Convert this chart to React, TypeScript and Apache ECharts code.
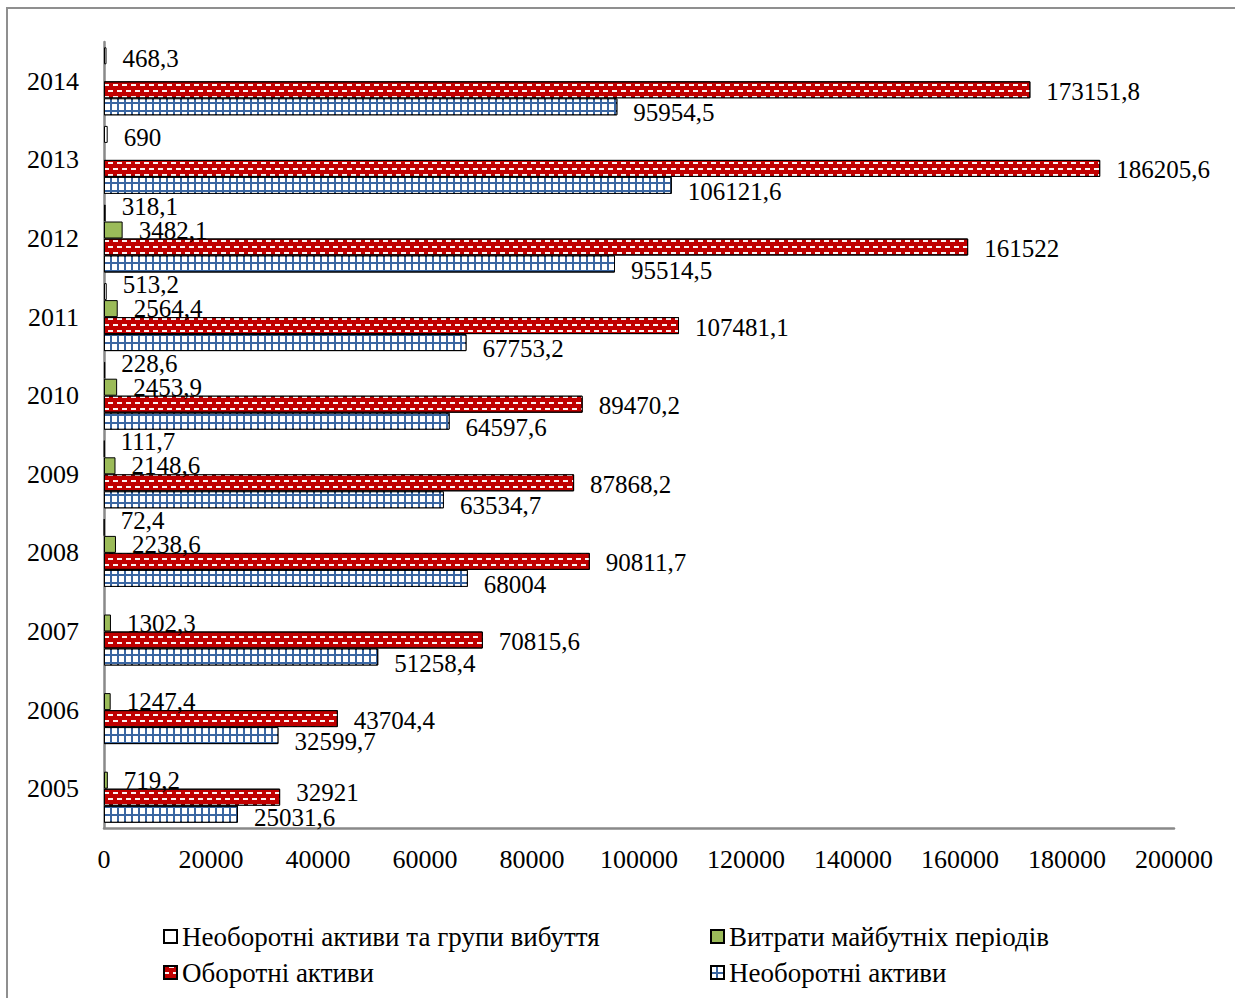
import React, { useEffect, useRef } from 'react';
import * as echarts from 'echarts';

const years = ['2005', '2006', '2007', '2008', '2009', '2010', '2011', '2012', '2013', '2014'];
const xTicks = { min: 0, max: 200000, interval: 20000 };

const seriesNames = [
  'Необоротні активи та групи вибуття',
  'Витрати майбутніх періодів',
  'Оборотні активи',
  'Необоротні активи',
];

const disposalGroups = [null, null, null, 72.4, 111.7, 228.6, 513.2, 318.1, 690, 468.3];
const deferredExpenses = [719.2, 1247.4, 1302.3, 2238.6, 2148.6, 2453.9, 2564.4, 3482.1, null, null];
const currentAssets = [32921, 43704.4, 70815.6, 90811.7, 87868.2, 89470.2, 107481.1, 161522, 186205.6, 173151.8];
const nonCurrentAssets = [25031.6, 32599.7, 51258.4, 68004, 63534.7, 64597.6, 67753.2, 95514.5, 106121.6, 95954.5];

const FONT = "'Liberation Serif', 'Times New Roman', serif";

const fmt = (p: any) => String(p.value).replace('.', ',');

export default function App() {
  const ref = useRef<HTMLDivElement>(null);

  useEffect(() => {
    if (!ref.current) return;
    const chart = echarts.init(ref.current, null, { renderer: 'svg' });

    const labelBase = {
      show: true,
      position: 'right',
      distance: 16,
      fontFamily: FONT,
      fontSize: 25,
      color: '#000',
      formatter: fmt,
    };

    const whiteData = disposalGroups.map((v, i) => ({
      value: v,
      label: { offset: [0, deferredExpenses[i] != null ? -7 : 3] },
    }));
    const redData = currentAssets.map((v, i) => ({
      value: v,
      label: { offset: [0, i === 0 ? -5 : 1.5] },
    }));
    const blueData = nonCurrentAssets.map((v, i) => ({
      value: v,
      label: { offset: [0, i === 0 ? 3 : 6] },
    }));

    const legendPos = [
      { left: 163, top: 923 },
      { left: 710, top: 923 },
      { left: 163, top: 959 },
      { left: 710, top: 959 },
    ];

    const option: any = {
      animation: false,
      backgroundColor: '#fff',
      graphic: [
        {
          type: 'rect',
          z: -10,
          shape: { x: 7, y: 8, width: 1400, height: 1200 },
          style: { fill: 'none', stroke: '#8f8f8f', lineWidth: 2 },
        },
      ],
      legend: seriesNames.map((n, i) => ({
        data: [n],
        left: legendPos[i].left,
        top: legendPos[i].top,
        padding: 0,
        itemWidth: 13,
        itemHeight: 13,
        icon: 'rect',
        selectedMode: false,
        textStyle: { fontFamily: FONT, fontSize: 27, color: '#000' },
      })),
      grid: { left: 104, right: 61, top: 42, height: 786, containLabel: false },
      xAxis: {
        type: 'value',
        min: xTicks.min,
        max: xTicks.max,
        interval: xTicks.interval,
        splitLine: { show: false },
        axisTick: { show: false },
        axisLine: { show: true, lineStyle: { color: '#898989', width: 2.5 } },
        axisLabel: {
          fontFamily: FONT,
          fontSize: 26,
          color: '#000',
          margin: 18,
          formatter: (v: number) => String(v),
        },
      },
      yAxis: {
        type: 'category',
        data: years,
        axisTick: { show: false },
        axisLine: { show: true, lineStyle: { color: '#898989', width: 2.5 } },
        axisLabel: { fontFamily: FONT, fontSize: 26, color: '#000', margin: 25 },
      },
      series: [
        {
          name: seriesNames[0],
          type: 'bar',
          barWidth: 17,
          barGap: '0%',
          data: whiteData,
          itemStyle: { color: '#ffffff', borderColor: '#000', borderWidth: 1 },
          label: { ...labelBase },
        },
        {
          name: seriesNames[1],
          type: 'bar',
          barWidth: 17,
          barGap: '0%',
          data: deferredExpenses,
          itemStyle: { color: '#9bbb59', borderColor: '#000', borderWidth: 1 },
          label: { ...labelBase, offset: [0, 0] },
        },
        {
          name: seriesNames[2],
          type: 'bar',
          barWidth: 17,
          barGap: '0%',
          data: redData,
          itemStyle: {
            color: '#c00000',
            borderColor: '#000',
            borderWidth: 1,
            decal: {
              symbol: 'rect',
              symbolSize: 1,
              color: 'rgba(255,255,255,0.95)',
              dashArrayX: [[5, 4], [1, 4, 4, 0]],
              dashArrayY: [2, 4],
              rotation: 0,
            },
          },
          label: { ...labelBase },
        },
        {
          name: seriesNames[3],
          type: 'bar',
          barWidth: 17,
          barGap: '0%',
          data: blueData,
          itemStyle: {
            color: '#3a66a2',
            borderColor: '#000',
            borderWidth: 1,
            decal: {
              symbol: 'rect',
              symbolSize: 1,
              color: '#ffffff',
              dashArrayX: [5, 2],
              dashArrayY: [6, 2],
              rotation: 0,
            },
          },
          label: { ...labelBase },
        },
      ],
    };

    chart.setOption(option);
    return () => chart.dispose();
  }, []);

  return (
    <div
      ref={ref}
      style={{ position: 'absolute', left: 0, top: 0, width: 1235, height: 998 }}
    />
  );
}
